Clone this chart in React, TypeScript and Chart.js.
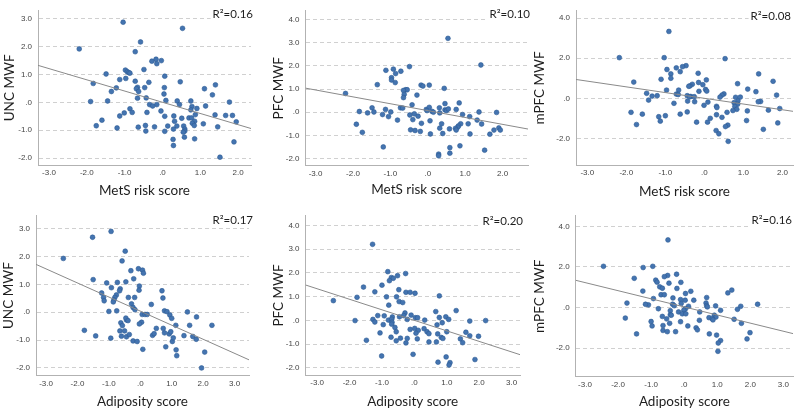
import React, { useEffect, useRef } from "react";
import { Chart, registerables } from "chart.js";
Chart.register(...registerables);

// ---------- data ----------
const metsTicksX = [-3, -2, -1, 0, 1, 2];
const adipTicksX = [-3, -2, -1, 0, 1, 2, 3];
const uncTicksY = [-2, -1, 0, 1, 2, 3];
const pfcTicksY = [-2, -1, 0, 1, 2, 3, 4];
const mpfcTicksY = [-2, 0, 2, 4];

const xTitles = ["MetS risk score", "MetS risk score", "MetS risk score", "Adiposity score", "Adiposity score", "Adiposity score"];
const yTitles = ["UNC MWF", "PFC MWF", "mPFC MWF", "UNC MWF", "PFC MWF", "mPFC MWF"];
const rSquared = ["0.16", "0.10", "0.08", "0.17", "0.20", "0.16"];
const fitSlopes = [-0.403, -0.297, -0.286, -0.505, -0.443, -0.4];
const fitIntercepts = [0.004, 0.069, 0.0, 0.04, 0.0, 0.03];

const metsUnc: [number, number][] = [
  [-2.2, 1.92], [-1.04, 2.88], [0.53, 2.66], [-0.58, 2.17], [-0.72, 1.82], [-0.17, 1.55], [-0.03, 1.5], [-0.28, 1.48],
  [-0.15, 1.39], [-0.98, 1.16], [-0.93, 1.1], [-0.89, 1.07], [-0.86, 1.05], [-0.49, 1.18], [-1.49, 1.02], [0.06, 0.94],
  [-1.13, 0.82], [-0.97, 0.86], [-0.72, 0.76], [-0.36, 0.72], [0.47, 0.74], [-1.83, 0.68], [-1.22, 0.52], [-0.66, 0.54],
  [-0.69, 0.49], [-0.47, 0.53], [0.05, 0.53], [-1.35, 0.39], [-0.63, 0.39], [1.11, 0.49], [1.4, 0.63], [0.04, 0.3],
  [1.32, 0.27], [-0.66, 0.15], [-0.43, 0.16], [-1.9, 0.03], [-1.45, 0.05], [0.09, 0.07], [0.39, 0.05], [0.75, 0.05],
  [1.77, 0.01], [-0.34, -0.08], [-0.15, -0.08], [-0.26, -0.13], [0.45, -0.08], [1.14, -0.13], [-0.86, -0.23], [0.78, -0.15],
  [0.91, -0.22], [0.75, -0.27], [-0.41, -0.36], [-0.04, -0.31], [-0.8, -0.36], [-1.01, -0.38], [-1.13, -0.49], [0.87, -0.44],
  [1.39, -0.45], [1.67, -0.47], [1.85, -0.47], [-1.6, -0.64], [0.06, -0.5], [0.51, -0.57], [0.3, -0.49], [0.7, -0.56],
  [0.77, -0.56], [1.95, -0.7], [0.32, -0.68], [0.85, -0.68], [0.79, -0.75], [1.08, -0.77], [-1.75, -0.84], [-0.45, -0.83],
  [0.14, -0.85], [0.38, -0.85], [0.56, -0.85], [0.84, -0.83], [1.46, -0.88], [-1.2, -0.92], [-0.64, -0.89], [-0.21, -0.88],
  [0.29, -0.96], [0.59, -0.96], [-0.44, -1.03], [0.06, -1.04], [0.59, -1.03], [0.55, -1.07], [0.85, -1.31], [0.58, -1.25],
  [0.28, -1.33], [1.89, -1.42], [0.29, -1.55], [1.52, -1.97],
];

const metsPfc: [number, number][] = [
  [0.54, 3.19], [1.42, 2.04], [-0.49, 1.97], [-0.92, 1.86], [-1.12, 1.81], [-0.72, 1.77], [-0.86, 1.67], [-0.97, 1.49],
  [-0.97, 1.39], [-0.87, 1.28], [-1.35, 1.19], [-0.18, 1.17], [-0.13, 1.13], [0.04, 1.17], [-0.59, 0.97], [-0.55, 0.97],
  [-0.65, 0.94], [0.44, 1.03], [-2.2, 0.81], [-0.63, 0.77], [-0.29, 0.74], [-0.65, 0.63], [-0.42, 0.32], [0.46, 0.37],
  [0.84, 0.4], [-0.73, 0.19], [-0.67, 0.18], [-1.49, 0.19], [-1.13, 0.12], [-0.04, 0.12], [0.04, 0.21], [0.31, 0.19],
  [0.46, 0.1], [0.5, 0.07], [0.55, 0.14], [0.76, 0.12], [-0.02, 0.07], [0.11, 0.04], [0.15, 0.0], [-1.83, 0.03],
  [-1.61, -0.03], [-1.44, 0.01], [-0.99, 0.01], [1.37, 0.01], [1.84, -0.01], [-1.21, -0.1], [-0.36, -0.07], [0.32, -0.03],
  [-1.05, -0.19], [-0.26, -0.17], [-0.48, -0.12], [0.93, -0.1], [1.12, -0.19], [-0.81, -0.34], [-0.4, -0.32], [0.06, -0.37],
  [1.32, -0.34], [1.44, -0.51], [-1.91, -0.52], [-0.17, -0.48], [0.37, -0.5], [0.88, -0.5], [1.08, -0.5], [0.82, -0.59],
  [0.8, -0.65], [0.74, -0.7], [0.76, -0.77], [0.32, -0.69], [0.58, -0.72], [1.9, -0.68], [1.94, -0.77], [1.77, -0.77],
  [-0.46, -0.76], [-0.34, -0.79], [-0.2, -0.83], [-1.75, -0.87], [0.07, -0.94], [0.4, -0.92], [1.13, -0.94], [1.66, -0.95],
  [-1.19, -1.5], [0.86, -1.45], [0.59, -1.53], [1.52, -1.64], [0.59, -1.77], [0.29, -1.81], [0.29, -1.88],
];

const metsMpfc: [number, number][] = [
  [-0.91, 3.34], [-2.18, 2.03], [-1.03, 2.03], [0.53, 1.98], [-0.47, 1.63], [-0.56, 1.58], [-0.72, 1.52], [-0.96, 1.44],
  [-0.62, 1.33], [-0.86, 1.22], [-0.16, 1.25], [1.39, 1.22], [-0.86, 1.0], [-1.11, 0.95], [0.05, 0.92], [-1.81, 0.81],
  [1.76, 0.85], [-0.15, 0.79], [0.85, 0.73], [-0.31, 0.7], [-0.04, 0.68], [-0.37, 0.62], [-0.4, 0.6], [-0.97, 0.41],
  [-0.66, 0.41], [0.03, 0.44], [0.06, 0.36], [-0.14, 0.35], [1.11, 0.46], [1.32, 0.33], [-1.48, 0.25], [-0.72, 0.21],
  [0.5, 0.22], [-0.67, 0.19], [0.45, 0.16], [-1.34, 0.11], [-1.21, 0.13], [-0.44, 0.13], [-0.35, 0.09], [-0.38, 0.08],
  [0.4, 0.06], [0.8, 0.05], [0.92, 0.06], [1.85, 0.16], [-0.26, 0.08], [-1.43, -0.09], [-0.43, -0.14], [-0.25, -0.17],
  [1.44, -0.16], [1.38, -0.17], [0.09, -0.19], [0.86, -0.13], [-0.78, -0.25], [0.76, -0.22], [0.85, -0.3], [-0.01, -0.35],
  [0.31, -0.4], [0.78, -0.41], [0.32, -0.46], [0.83, -0.55], [1.93, -0.51], [0.73, -0.61], [1.1, -0.63], [1.64, -0.59],
  [-1.59, -0.79], [-0.62, -0.79], [-0.44, -0.68], [0.58, -0.7], [-1.88, -0.7], [0.31, -0.82], [-1.0, -0.87], [-1.17, -0.92],
  [0.45, -0.95], [0.15, -1.0], [-1.13, -1.14], [0.08, -1.19], [-0.2, -1.19], [1.08, -1.11], [1.88, -1.23], [-1.74, -1.31],
  [0.6, -1.34], [0.54, -1.41], [1.51, -1.55], [0.3, -1.61], [0.37, -1.77], [0.61, -2.15],
];

const adipUnc: [number, number][] = [
  [-0.93, 2.9], [-1.52, 2.69], [-2.45, 1.93], [-0.48, 2.19], [-0.58, 1.84], [-0.06, 1.56], [0.07, 1.51], [-0.3, 1.49],
  [0.1, 1.4], [-1.5, 1.17], [-0.21, 1.2], [-0.46, 1.09], [-0.73, 1.07], [-1.07, 1.05], [-1.23, 0.69], [-1.17, 0.53],
  [-1.15, 0.41], [-0.92, 0.88], [-0.64, 0.84], [-0.66, 0.77], [-0.03, 0.94], [-0.04, 0.79], [-0.76, 0.62], [-0.81, 0.53],
  [-0.84, 0.44], [-0.86, 0.37], [-0.38, 0.53], [-0.18, 0.53], [-0.28, 0.3], [-0.23, 0.17], [-0.17, 0.09], [-1.0, 0.03],
  [-0.75, 0.05], [0.35, 0.28], [0.69, 0.77], [0.72, 0.51], [0.77, 0.05], [0.85, 0.02], [0.94, -0.1], [1.0, -0.22],
  [0.06, -0.08], [0.15, -0.08], [0.22, -0.08], [0.04, -0.36], [-0.03, -0.42], [-0.44, -0.28], [-0.46, -0.21], [-0.39, -0.3],
  [-0.62, -0.38], [-0.57, -0.48], [-0.5, -0.67], [-0.44, -0.88], [-0.65, -0.67], [-1.78, -0.65], [-1.42, -0.85], [-0.94, -0.93],
  [-0.23, -1.03], [-0.1, -1.05], [0.08, -1.33], [0.39, -0.83], [0.44, -0.77], [0.51, -0.58], [0.77, -0.74], [0.73, -0.58],
  [0.81, -1.24], [0.92, -0.78], [0.97, -0.7], [1.02, -1.05], [1.05, -0.92], [1.13, -0.47], [1.14, -1.35], [1.16, -1.56],
  [1.5, 0.01], [1.57, -0.47], [1.39, -0.84], [1.79, -0.17], [1.67, -0.87], [1.78, -0.97], [1.95, -2.0], [2.05, -1.43],
  [2.28, -0.47], [-0.6, -0.86], [-0.35, -0.8],
];

const adipPfc: [number, number][] = [
  [-1.29, 3.2], [-0.82, 2.05], [-0.52, 1.88], [-0.27, 1.97], [-0.71, 1.8], [-0.65, 1.77], [-0.77, 1.67], [-1.0, 1.48],
  [-1.57, 1.4], [-0.48, 1.29], [-1.22, 1.2], [-0.26, 1.18], [-0.13, 1.18], [0.02, 1.14], [-1.77, 0.97], [-0.86, 0.99],
  [-0.55, 0.99], [0.77, 1.03], [-0.47, 0.79], [-0.36, 0.75], [-2.5, 0.83], [-0.79, 0.64], [1.29, 0.41], [0.66, 0.37],
  [-0.29, 0.31], [-0.33, 0.2], [-1.13, 0.2], [-0.93, 0.19], [-0.68, 0.14], [-0.46, 0.15], [-0.1, 0.22], [0.03, 0.11],
  [0.1, 0.11], [0.77, 0.12], [0.97, 0.15], [-1.28, 0.04], [-1.83, -0.01], [-1.22, -0.07], [-0.8, 0.01], [-0.7, 0.05],
  [-0.22, 0.04], [0.32, 0.01], [1.06, 0.04], [1.71, -0.03], [2.2, -0.01], [-0.69, -0.08], [-0.7, -0.16], [-0.96, -0.18],
  [0.7, -0.19], [0.86, -0.1], [-0.6, -0.3], [0.01, -0.34], [-0.13, -0.38], [0.3, -0.35], [0.12, -0.42], [0.39, -0.48],
  [-0.56, -0.48], [-1.06, -0.53], [0.05, -0.54], [0.45, -0.56], [1.0, -0.48], [1.59, -0.5], [0.72, -0.57], [0.83, -0.72],
  [0.88, -0.76], [1.71, -0.65], [1.98, -0.67], [1.42, -0.78], [-0.43, -0.75], [-0.72, -0.71], [-0.56, -0.86], [-1.48, -0.84],
  [0.09, -0.78], [-0.22, -0.76], [0.45, -0.91], [0.68, -0.91], [-0.26, -0.95], [1.49, -0.94], [-0.04, -1.43], [-1.01, -1.5],
  [0.98, -1.54], [1.87, -1.65], [0.73, -1.76], [1.1, -1.78], [1.07, -1.88],
];

const adipMpfc: [number, number][] = [
  [-0.49, 3.33], [-2.44, 2.03], [-0.95, 2.03], [-1.24, 1.97], [-0.23, 1.64], [-0.5, 1.58], [-0.6, 1.52], [-1.51, 1.44],
  [-0.86, 1.35], [-0.82, 1.25], [-0.1, 1.24], [-0.46, 1.2], [-0.74, 1.02], [-0.66, 0.95], [-0.22, 0.94], [1.44, 0.86],
  [-1.25, 0.81], [0.2, 0.8], [1.32, 0.72], [0.04, 0.69], [-0.7, 0.63], [-0.6, 0.63], [0.68, 0.49], [-0.34, 0.47],
  [-0.93, 0.44], [-0.11, 0.39], [0.29, 0.36], [0.03, 0.36], [-0.09, 0.2], [0.66, 0.22], [-1.73, 0.22], [-1.08, 0.13],
  [-1.17, 0.16], [-0.35, 0.16], [-0.3, 0.09], [0.68, 0.09], [0.95, 0.08], [1.71, 0.06], [2.22, 0.16], [0.13, 0.06],
  [0.7, 0.03], [-0.78, -0.06], [0.04, -0.06], [-0.01, -0.13], [-0.42, -0.16], [1.1, -0.14], [1.61, -0.09], [-0.17, -0.22],
  [0.47, -0.22], [-0.06, -0.31], [0.05, -0.31], [-0.42, -0.36], [-0.66, -0.44], [-0.39, -0.38], [0.91, -0.38], [0.96, -0.47],
  [0.75, -0.5], [0.85, -0.55], [-0.53, -0.56], [1.51, -0.58], [-1.78, -0.52], [0.87, -0.61], [0.46, -0.63], [-1.0, -0.69],
  [-0.11, -0.7], [-0.44, -0.78], [1.73, -0.78], [-0.64, -0.89], [-0.97, -0.91], [0.11, -0.91], [0.36, -1.0], [0.4, -1.1],
  [-0.64, -1.13], [-0.51, -1.19], [-0.26, -1.19], [1.99, -1.24], [0.76, -1.3], [-1.44, -1.3], [0.98, -1.36], [1.9, -1.55],
  [1.1, -1.63], [1.03, -1.75], [1.02, -2.16],
];

const panelPoints = [metsUnc, metsPfc, metsMpfc, adipUnc, adipPfc, adipMpfc];
const panelTicksX = [metsTicksX, metsTicksX, metsTicksX, adipTicksX, adipTicksX, adipTicksX];
const panelTicksY = [uncTicksY, pfcTicksY, mpfcTicksY, uncTicksY, pfcTicksY, mpfcTicksY];

// ---------- layout (page pixels) ----------
const LAYOUT = [
  { cx: 0, cy: 0, cw: 265, ch: 205, L: 38, R: 251, T: 4, B: 165, xr: [-3.29, 2.34], yr: [-2.25, 3.29], ytx: 10, xty: 190.7, rx: 253, ry: 14 },
  { cx: 265, cy: 0, cw: 265, ch: 205, L: 305.5, R: 528, T: 4, B: 165.7, xr: [-3.27, 2.68], yr: [-2.31, 4.38], ytx: 278.3, xty: 189.3, rx: 530, ry: 14 },
  { cx: 530, cy: 0, cw: 266, ch: 205, L: 576, R: 793, T: 3, B: 165, xr: [-3.29, 2.27], yr: [-3.33, 4.37], ytx: 540, xty: 191.7, rx: 791, ry: 16 },
  { cx: 0, cy: 205, cw: 265, ch: 205, L: 36, R: 249, T: 212, B: 375.5, xr: [-3.32, 3.46], yr: [-2.27, 3.46], ytx: 8.3, xty: 401.7, rx: 253, ry: 220 },
  { cx: 265, cy: 205, cw: 265, ch: 205, L: 305.5, R: 520, T: 211, B: 375, xr: [-3.36, 3.26], yr: [-2.3, 4.4], ytx: 278.3, xty: 401.7, rx: 523, ry: 221 },
  { cx: 530, cy: 205, cw: 266, ch: 205, L: 575.7, R: 793, T: 208, B: 376.7, xr: [-3.28, 3.29], yr: [-3.41, 4.52], ytx: 540, xty: 402.3, rx: 792, ry: 220 },
];

const TITLE_SIZE = 13.5;
const TITLE_LH = TITLE_SIZE * 1.2;
const fmt = (v: number) => (Math.abs(v) < 1e-9 ? ".0" : v.toFixed(1));

function Panel({ idx }: { idx: number }) {
  const ref = useRef<HTMLCanvasElement>(null);
  const g = LAYOUT[idx];
  useEffect(() => {
    if (!ref.current) return;
    const pts = panelPoints[idx];
    const xmin = g.xr[0], xmax = g.xr[1];
    const fit = [xmin, xmax].map((x) => ({ x, y: fitSlopes[idx] * x + fitIntercepts[idx] }));
    const rPlugin = {
      id: "rsq" + idx,
      afterDraw(chart: any) {
        const ctx = chart.ctx;
        ctx.save();
        ctx.font = "11.5px Lato";
        const txt = "R\u00B2=" + rSquared[idx];
        const w = ctx.measureText(txt).width;
        const x = g.rx - g.cx;
        const y = g.ry - g.cy;
        ctx.fillStyle = "#ffffff";
        ctx.fillRect(x - w - 2, y - 8, w + 3, 16);
        ctx.fillStyle = "#1e1e1e";
        ctx.textAlign = "right";
        ctx.textBaseline = "middle";
        ctx.fillText(txt, x, y);
        ctx.restore();
      },
    };
    const chart = new Chart(ref.current, {
      type: "scatter",
      data: {
        datasets: [
          {
            data: fit,
            showLine: true,
            borderColor: "#8a8a8a",
            borderWidth: 1,
            pointRadius: 0,
            order: 0,
          } as any,
          {
            data: pts.map(([x, y]) => ({ x, y })),
            pointRadius: 2.4,
            pointBackgroundColor: "#4474b0",
            pointBorderColor: "#2c5b93",
            pointBorderWidth: 0.6,
            order: 1,
          } as any,
        ],
      },
      options: {
        responsive: false,
        animation: false,
        devicePixelRatio: 1,
        layout: {
          autoPadding: false,
          padding: { left: 0, top: g.T - g.cy, right: g.cx + g.cw - g.R, bottom: 0 },
        },
        plugins: { legend: { display: false }, tooltip: { enabled: false } },
        scales: {
          x: {
            type: "linear",
            min: xmin,
            max: xmax,
            afterBuildTicks: (s: any) => {
              s.ticks = panelTicksX[idx].map((v) => ({ value: v }));
            },
            afterFit: (s: any) => {
              s.height = g.cy + g.ch - g.B;
            },
            grid: { display: false, drawTicks: false },
            border: { display: true, color: "#b2b2b2", width: 1 },
            ticks: {
              padding: 3,
              maxRotation: 0,
              autoSkip: false,
              color: "#444444",
              font: { family: "Liberation Sans", size: 8 },
              callback: (v: any) => fmt(Number(v)),
            },
            title: {
              display: true,
              text: xTitles[idx],
              color: "#1e1e1e",
              font: { family: "Lato", size: TITLE_SIZE },
              padding: { top: 0, bottom: Math.max(0, g.cy + g.ch - g.xty - TITLE_LH / 2) },
            },
          },
          y: {
            type: "linear",
            min: g.yr[0],
            max: g.yr[1],
            afterBuildTicks: (s: any) => {
              s.ticks = panelTicksY[idx].map((v) => ({ value: v }));
            },
            afterFit: (s: any) => {
              s.width = g.L - g.cx;
            },
            grid: { display: true, drawTicks: false, color: "#d0d0d0", lineWidth: 1 },
            border: { display: true, color: "#b2b2b2", width: 1, dash: [4, 3] },
            ticks: {
              padding: 6,
              autoSkip: false,
              color: "#444444",
              font: { family: "Liberation Sans", size: 8 },
              callback: (v: any) => fmt(Number(v)),
            },
            title: {
              display: true,
              text: yTitles[idx],
              color: "#1e1e1e",
              font: { family: "Lato", size: TITLE_SIZE },
              padding: { top: Math.max(0, g.ytx - g.cx - TITLE_LH / 2), bottom: 0 },
            },
          },
        },
      } as any,
      plugins: [rPlugin],
    });
    return () => chart.destroy();
  }, [idx]);
  return (
    <canvas
      ref={ref}
      width={g.cw}
      height={g.ch}
      style={{ position: "absolute", left: g.cx, top: g.cy, width: g.cw, height: g.ch }}
    />
  );
}

export default function App() {
  return (
    <div style={{ position: "absolute", left: 0, top: 0, width: 796, height: 410, background: "#ffffff", overflow: "hidden" }}>
      {LAYOUT.map((_, i) => (
        <Panel key={i} idx={i} />
      ))}
    </div>
  );
}
